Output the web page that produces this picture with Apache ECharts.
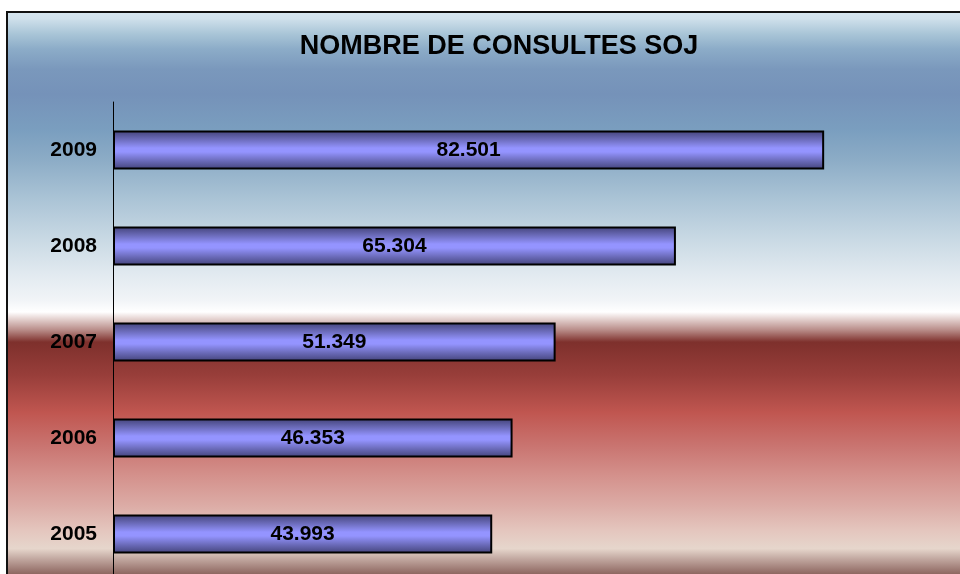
<!DOCTYPE html>
<html>
<head>
<meta charset="utf-8">
<script src="https://cdn.jsdelivr.net/npm/echarts@6/dist/echarts.min.js"></script>
<style>
  html, body { margin: 0; padding: 0; background: #fff; overflow: hidden; }
  /* el gràfic original continua per sota i a la dreta de la finestra */
  #chart { width: 1000px; height: 610px; }
</style>
</head>
<body>
<div id="chart"></div>
<script>
// nombre de consultes per any
const years = ['2005', '2006', '2007', '2008', '2009'];
const consultes = [43993, 46353, 51349, 65304, 82501];
const titleText = 'NOMBRE DE CONSULTES SOJ';

// punt de milers a la catalana
const fmt = v => String(v).replace(/\B(?=(\d{3})+(?!\d))/g, '.');

const chart = echarts.init(document.getElementById('chart'));

// fons: degradat blau -> blanc -> vermell
const bgStops = [
    [0.000, '#d6e6f0'],
    [0.013, '#cfe0eb'],
    [0.038, '#a9c5d7'],
    [0.063, '#8cacc8'],
    [0.097, '#7a98bc'],
    [0.138, '#7592b9'],
    [0.197, '#7a9ebf'],
    [0.247, '#8cacc6'],
    [0.313, '#abc4d6'],
    [0.380, '#c9d9e4'],
    [0.438, '#e2eaf0'],
    [0.480, '#f1f4f7'],
    [0.500, '#ffffff'],
    [0.510, '#e8d8d6'],
    [0.530, '#b88c88'],
    [0.550, '#7e302c'],
    [0.605, '#983e3a'],
    [0.667, '#c05650'],
    [0.722, '#c97470'],
    [0.772, '#d4918c'],
    [0.822, '#dcaca6'],
    [0.863, '#e4c6be'],
    [0.893, '#e6d6cc'],
    [0.907, '#c8b0a8'],
    [0.937, '#8a625c'],
    [1.000, '#704840'],
].map(([offset, color]) => ({ offset, color }));

const barFill = new echarts.graphic.LinearGradient(0, 0, 0, 1, [
    { offset: 0, color: '#424278' },
    { offset: 0.22, color: '#6a6ab8' },
    { offset: 0.45, color: '#9494ff' },
    { offset: 0.55, color: '#9494ff' },
    { offset: 0.78, color: '#6a6ab8' },
    { offset: 1, color: '#424278' },
]);

const option = {
    animation: false,
    graphic: [
        {
            type: 'rect',
            z: -10,
            shape: { x: 7, y: 12, width: 1000, height: 600 },
            style: {
                fill: new echarts.graphic.LinearGradient(0, 0, 0, 1, bgStops),
                stroke: '#111',
                lineWidth: 2,
            },
        },
        {
            type: 'text',
            z: 10,
            x: 499,
            y: 47,
            style: {
                text: titleText,
                font: 'bold 27px "Liberation Sans", Arial, sans-serif',
                fill: '#000',
                align: 'center',
                verticalAlign: 'middle',
            },
        },
    ],
    grid: {
        left: 113,
        top: 102,
        width: 862,
        height: 480,
        containLabel: false,
    },
    xAxis: {
        type: 'value',
        min: 0,
        max: 100000,
        show: false,
    },
    yAxis: {
        type: 'category',
        data: years,
        axisLine: { show: true, lineStyle: { color: '#000', width: 1 } },
        axisTick: { show: false },
        splitLine: { show: false },
        axisLabel: {
            margin: 16,
            color: '#000',
            fontSize: 21,
            fontWeight: 'bold',
            fontFamily: '"Liberation Sans", Arial, sans-serif',
        },
    },
    series: [
        {
            type: 'bar',
            data: consultes,
            barWidth: 39,
            itemStyle: {
                color: barFill,
                borderColor: '#000',
                borderWidth: 2,
            },
            label: {
                show: true,
                position: 'inside',
                formatter: p => fmt(p.value),
                color: '#000',
                fontSize: 21,
                fontWeight: 'bold',
                fontFamily: '"Liberation Sans", Arial, sans-serif',
            },
        },
    ],
};

chart.setOption(option);
</script>
</body>
</html>
